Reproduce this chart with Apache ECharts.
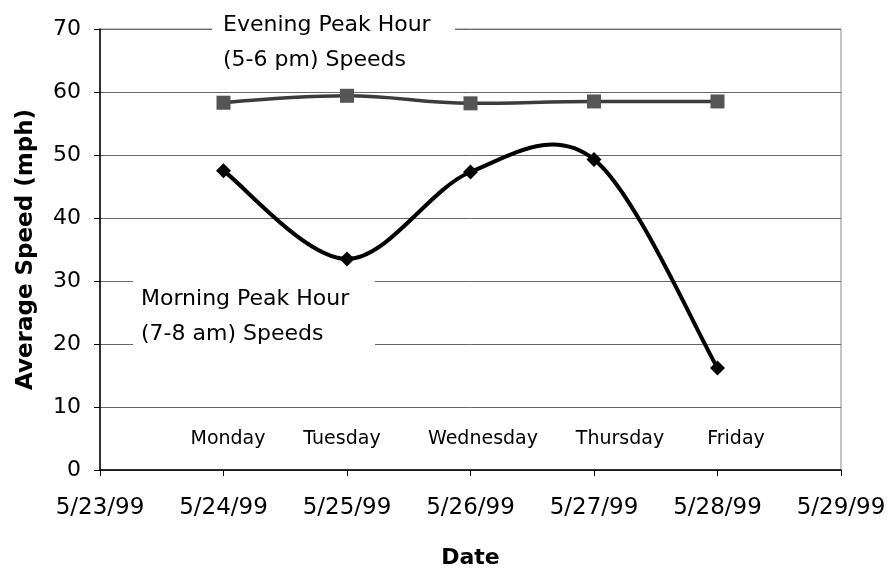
<!DOCTYPE html>
<html>
<head>
<meta charset="utf-8">
<script src="https://cdn.jsdelivr.net/npm/echarts@6/dist/echarts.min.js"></script>
<style>
  html, body { margin: 0; padding: 0; background: #fff; }
  #chart { width: 894px; height: 574px; }
</style>
</head>
<body>
<div id="chart"></div>
<script>
// day of month (May 1999) for each weekday
const days = [24, 25, 26, 27, 28]
const dayNames = ['Monday', 'Tuesday', 'Wednesday', 'Thursday', 'Friday']
const eveningSpeeds = [58.3, 59.4, 58.2, 58.5, 58.5]
const morningSpeeds = [47.5, 33.5, 47.3, 49.3, 16.2]
const dateLabels = ['5/23/99', '5/24/99', '5/25/99', '5/26/99', '5/27/99', '5/28/99', '5/29/99']

const font = 'DejaVu Sans'
const chart = echarts.init(document.getElementById('chart'))

// where the weekday captions sit along the bottom of the plot
const dayLabelX = [228, 342, 483, 620, 736]

// Excel-style smoothed line (catmull-rom through the points, may overshoot)
function renderMorning(params, api) {
  const n = days.length
  const i = params.dataIndex
  const pt = j => {
    j = Math.max(0, Math.min(n - 1, j))
    return api.coord([days[j], morningSpeeds[j]])
  }
  const p1 = pt(i)
  const children = []
  if (i < n - 1) {
    const p0 = pt(i - 1), p2 = pt(i + 1), p3 = pt(i + 2)
    children.push({
      type: 'bezierCurve',
      shape: {
        x1: p1[0], y1: p1[1], x2: p2[0], y2: p2[1],
        cpx1: p1[0] + (p2[0] - p0[0]) / 6, cpy1: p1[1] + (p2[1] - p0[1]) / 6,
        cpx2: p2[0] - (p3[0] - p1[0]) / 6, cpy2: p2[1] - (p3[1] - p1[1]) / 6
      },
      style: { stroke: '#000', lineWidth: 4, fill: null, lineCap: 'round' }
    })
  }
  const r = 7.5
  children.push({
    type: 'polygon',
    shape: { points: [[p1[0], p1[1] - r], [p1[0] + r, p1[1]], [p1[0], p1[1] + r], [p1[0] - r, p1[1]]] },
    style: { fill: '#000' }
  })
  return { type: 'group', children }
}

chart.setOption({
  animation: false,
  grid: {
    left: 100, top: 29, right: 53, bottom: 103,
    show: true, borderColor: '#8a8a8a', borderWidth: 1
  },
  xAxis: {
    type: 'value', min: 23, max: 29, interval: 1,
    name: 'Date', nameLocation: 'middle', nameGap: 77,
    nameTextStyle: { fontFamily: font, fontSize: 22, fontWeight: 'bold', color: '#000' },
    axisLine: { lineStyle: { color: '#000', width: 1.5 } },
    axisTick: { show: true, length: 6, lineStyle: { color: '#000' } },
    axisLabel: {
      fontFamily: font, fontSize: 23, color: '#000', margin: 27,
      formatter: v => dateLabels[v - 23]
    },
    splitLine: { show: false }
  },
  yAxis: {
    type: 'value', min: 0, max: 70, interval: 10,
    name: 'Average Speed (mph)', nameLocation: 'middle', nameGap: 62,
    nameTextStyle: { fontFamily: font, fontSize: 23, fontWeight: 'bold', color: '#000' },
    axisLine: { show: true, lineStyle: { color: '#000', width: 1.5 } },
    axisTick: { show: true, length: 6, lineStyle: { color: '#000' } },
    axisLabel: { fontFamily: font, fontSize: 22, color: '#000', margin: 19 },
    splitLine: { lineStyle: { color: '#666', width: 1 } }
  },
  series: [
    {
      name: 'Evening',
      type: 'line',
      data: days.map((d, i) => [d, eveningSpeeds[i]]),
      smooth: 0.4,
      symbol: 'rect', symbolSize: 14,
      lineStyle: { color: '#3c3c3c', width: 3.5 },
      itemStyle: { color: '#555' }
    },
    {
      name: 'Morning',
      type: 'custom',
      data: days.map((d, i) => [d, morningSpeeds[i]]),
      renderItem: renderMorning,
      z: 3
    }
  ],
  graphic: [
    { type: 'rect', z: 10, shape: { x: 212, y: 6, width: 243, height: 72 }, style: { fill: '#fff' } },
    { type: 'text', z: 11, left: 223, top: 8,
      style: { text: 'Evening Peak Hour\n(5-6 pm) Speeds', fontFamily: font, fontSize: 22, lineHeight: 35, fill: '#000' } },
    { type: 'rect', z: 10, shape: { x: 133, y: 270, width: 242, height: 88 }, style: { fill: '#fff' } },
    { type: 'text', z: 11, left: 141, top: 282,
      style: { text: 'Morning Peak Hour\n(7-8 am) Speeds', fontFamily: font, fontSize: 22, lineHeight: 35, fill: '#000' } },
    ...dayNames.map((n, i) => ({
      type: 'text', z: 11, x: dayLabelX[i], y: 439,
      style: { text: n, fontFamily: font, fontSize: 19, fill: '#000', align: 'center', verticalAlign: 'middle' }
    }))
  ]
})
</script>
</body>
</html>
